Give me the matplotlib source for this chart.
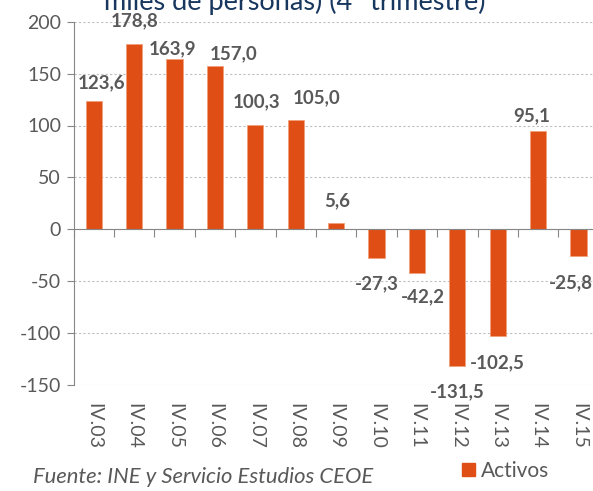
"""
Variacion anual de activos (miles de personas), 4o trimestre.
Bar chart with data labels, Excel look.
"""

import matplotlib
matplotlib.use("Agg")
import matplotlib.pyplot as plt
from matplotlib.patches import Patch
import numpy as np

periods = ["IV.03", "IV.04", "IV.05", "IV.06", "IV.07", "IV.08", "IV.09",
           "IV.10", "IV.11", "IV.12", "IV.13", "IV.14", "IV.15"]
activos = [123.6, 178.8, 163.9, 157.0, 100.3, 105.0, 5.6,
           -27.3, -42.2, -131.5, -102.5, 95.1, -25.8]

# label offsets in pixels (dx, dy) from bar end, as placed in the original
label_offsets = [(8, 18), (0, 23), (-2, 10), (19, 13), (1, 23), (21, 23), (1, 23),
                 (0, -26), (6, -24), (0, -26), (0, -27), (-6, 15), (-8, -27)]

BAR = "#DF4F15"
GREY = "#595959"
TITLE_BLUE = "#17375E"
FONT = "Lato"

plt.rcParams["font.family"] = [FONT, "DejaVu Sans"]
plt.rcParams["axes.unicode_minus"] = False

W, H = 593, 491
fig = plt.figure(figsize=(W / 100, H / 100), dpi=100)
# axes deliberately runs a bit past the right edge, like the cropped original
ax = fig.add_axes([73.5 / W, (H - 385) / H, 525.2 / W, 363.3 / H])

x = np.arange(len(periods))
ax.bar(x, activos, width=0.4, color=BAR, edgecolor="#F3A07A", linewidth=0.6, zorder=3)

ax.set_xlim(-0.5, len(periods) - 0.5)
ax.set_ylim(-150, 200)
ax.set_yticks(np.arange(-150, 201, 50))
ax.yaxis.grid(True, color="#BFBFBF", linestyle=(0, (2, 2)), linewidth=0.8, zorder=0)

for side in ["top", "right"]:
    ax.spines[side].set_visible(False)
ax.spines["left"].set_color("#868686")
ax.spines["bottom"].set_position(("data", 0))
ax.spines["bottom"].set_color("#868686")
ax.spines["bottom"].set_zorder(4)

ax.set_xticks(np.arange(-0.5, len(periods)), [""] * (len(periods) + 1))
ax.tick_params(axis="x", direction="out", length=6, color="#868686")
ax.tick_params(axis="y", direction="out", length=5, color="#868686",
               labelsize=14, labelcolor=GREY, pad=4)

# category labels below the plot, rotated
for i, lab in enumerate(periods):
    ax.annotate(lab, (i, -150), xytext=(0, -13), textcoords="offset points",
                rotation=270, ha="center", va="top", fontsize=14, color=GREY)

# data labels
for i, (v, (dx, dy)) in enumerate(zip(activos, label_offsets)):
    ax.annotate(f"{v:.1f}".replace(".", ","), (i, v),
                xytext=(dx * 0.72, dy * 0.72), textcoords="offset points",
                ha="center", va="center", fontsize=13.5, fontweight="bold",
                color=GREY, zorder=5)

# title is cut at the top edge in the original image
fig.text(104 / W, 1 - 10 / H, "miles de personas) (4º trimestre)",
         fontsize=19.5, color=TITLE_BLUE, va="baseline", ha="left")
fig.text(33 / W, 1 - 483 / H, "Fuente: INE y Servicio Estudios CEOE",
         fontsize=15.8, style="italic", color=GREY, va="baseline", ha="left")

fig.legend(handles=[Patch(color=BAR, label="Activos")], loc="lower left",
           bbox_to_anchor=(452 / W, 0.0), frameon=False, fontsize=15,
           handlelength=0.6, handleheight=0.6, handletextpad=0.3,
           labelcolor=GREY, borderaxespad=0.1)

fig.savefig("out.png", dpi=100)
